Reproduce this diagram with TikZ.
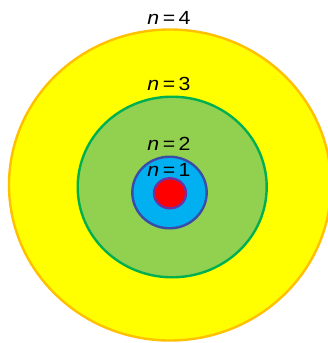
\documentclass[tikz,border=0pt]{standalone}
\usepackage{fontspec}
\usepackage{graphicx}
\setmainfont{Liberation Sans}
\usetikzlibrary{positioning,shapes.geometric}
\definecolor{shellorange}{HTML}{FFC000}
\definecolor{shellyellow}{HTML}{FFFF00}
\definecolor{shellgreen}{HTML}{92D050}
\definecolor{shelldkgreen}{HTML}{00B050}
\definecolor{shellblue}{HTML}{00B0F0}
\definecolor{shelldkblue}{HTML}{3B4CA6}
\definecolor{corered}{HTML}{FF0000}
\definecolor{corepurple}{HTML}{7030A0}

\begin{document}
\begin{tikzpicture}[
    x=1pt, y=-1pt,
    orbit/.style={ellipse, draw, line width=2.4pt, inner sep=0pt},
    lbl/.style={inner sep=0pt, font=\fontsize{19}{21}\selectfont}
]
\useasboundingbox (0,0) rectangle (328,343);
\clip (0,0) rectangle (328,343);

\node[orbit, fill=shellyellow, draw=shellorange, minimum width=322pt, minimum height=311pt] (orbit4) at (170,185) {};
\node[orbit, fill=shellgreen, draw=shelldkgreen, minimum width=189pt, minimum height=180.6pt] (orbit3) at (172.2,187) {};
\node[orbit, fill=shellblue, draw=shelldkblue, minimum width=74.4pt, minimum height=71.6pt] (orbit2) at (169.5,192.5) {};
\node[orbit, fill=corered, draw=corepurple, minimum width=32pt, minimum height=30pt] (nucleus) at (170,193.3) {};

\node[lbl] (lbl4) at (169,17.8) {\scalebox{1.12}[1]{\textit{n}\,=\,4}};
\node[lbl] (lbl3) at (169,83.8) {\scalebox{1.12}[1]{\textit{n}\,=\,3}};
\node[lbl] (lbl2) at (169,144) {\scalebox{1.12}[1]{\textit{n}\,=\,2}};
\node[lbl] (lbl1) at (169,170.3) {\scalebox{1.12}[1]{\textit{n}\,=\,1}};
\end{tikzpicture}
\end{document}
